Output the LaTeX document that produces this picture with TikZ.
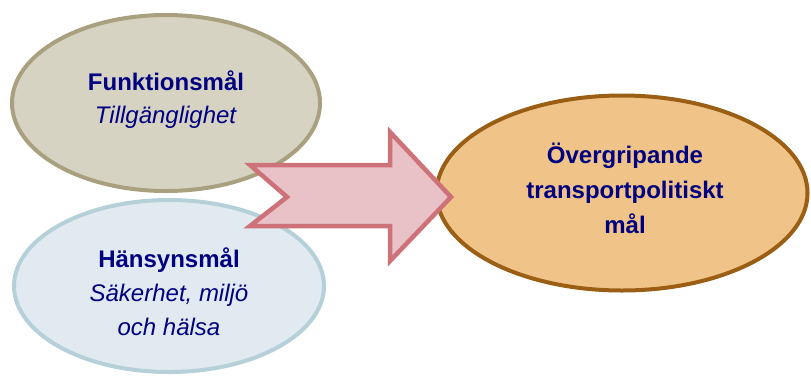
\documentclass[tikz,border=0pt]{standalone}
\usepackage{fontspec}
\setmainfont{Liberation Sans}
\usetikzlibrary{shapes.geometric}
\definecolor{txt}{HTML}{000080}
\definecolor{funcfill}{HTML}{D7D3C3}
\definecolor{funcdraw}{HTML}{A8A07F}
\definecolor{hansfill}{HTML}{E1EAF0}
\definecolor{hansdraw}{HTML}{B6D0DA}
\definecolor{overfill}{HTML}{F0C388}
\definecolor{overdraw}{HTML}{9A5E14}
\definecolor{arrfill}{HTML}{E8C2C6}
\definecolor{arrdraw}{HTML}{CE7279}
\tikzset{
  goal/.style={ellipse, inner sep=0pt, line width=4pt},
  goaltext/.style={text=txt, align=center, inner sep=0pt,
    font=\fontsize{24}{34}\selectfont},
  bigarrow/.style={fill=arrfill, draw=arrdraw, line width=4.5pt, line join=miter}
}
\begin{document}
\begin{tikzpicture}[x=1pt,y=-1pt]
\useasboundingbox (0,0) rectangle (811,376);
\node[goal, fill=hansfill, draw=hansdraw, minimum width=310pt, minimum height=172pt] (hans) at (169,286) {};
\node[goal, fill=funcfill, draw=funcdraw, minimum width=308pt, minimum height=176pt] (func) at (166,103) {};
\node[goal, fill=overfill, draw=overdraw, minimum width=371pt, minimum height=195pt] (over) at (622,193) {};
\draw[bigarrow] (250,165) -- (390,165) -- (390,132) -- (451,197) -- (390,261) -- (390,226) -- (250,226) -- (287,197) -- cycle;
\node[goaltext, anchor=base, font=\fontsize{24}{33}\selectfont] (functxt) at (166,123) {\textbf{Funktionsmål}\\\textit{Tillgänglighet}};
\node[goaltext, anchor=base] (hanstxt) at (169,335) {\textbf{Hänsynsmål}\\\textit{Säkerhet, miljö}\\\textit{och hälsa}};
\node[goaltext, anchor=base, font=\fontsize{24}{35}\selectfont\bfseries] (overtxt) at (625,233) {Övergripande\\transportpolitiskt\\mål};
\end{tikzpicture}
\end{document}
